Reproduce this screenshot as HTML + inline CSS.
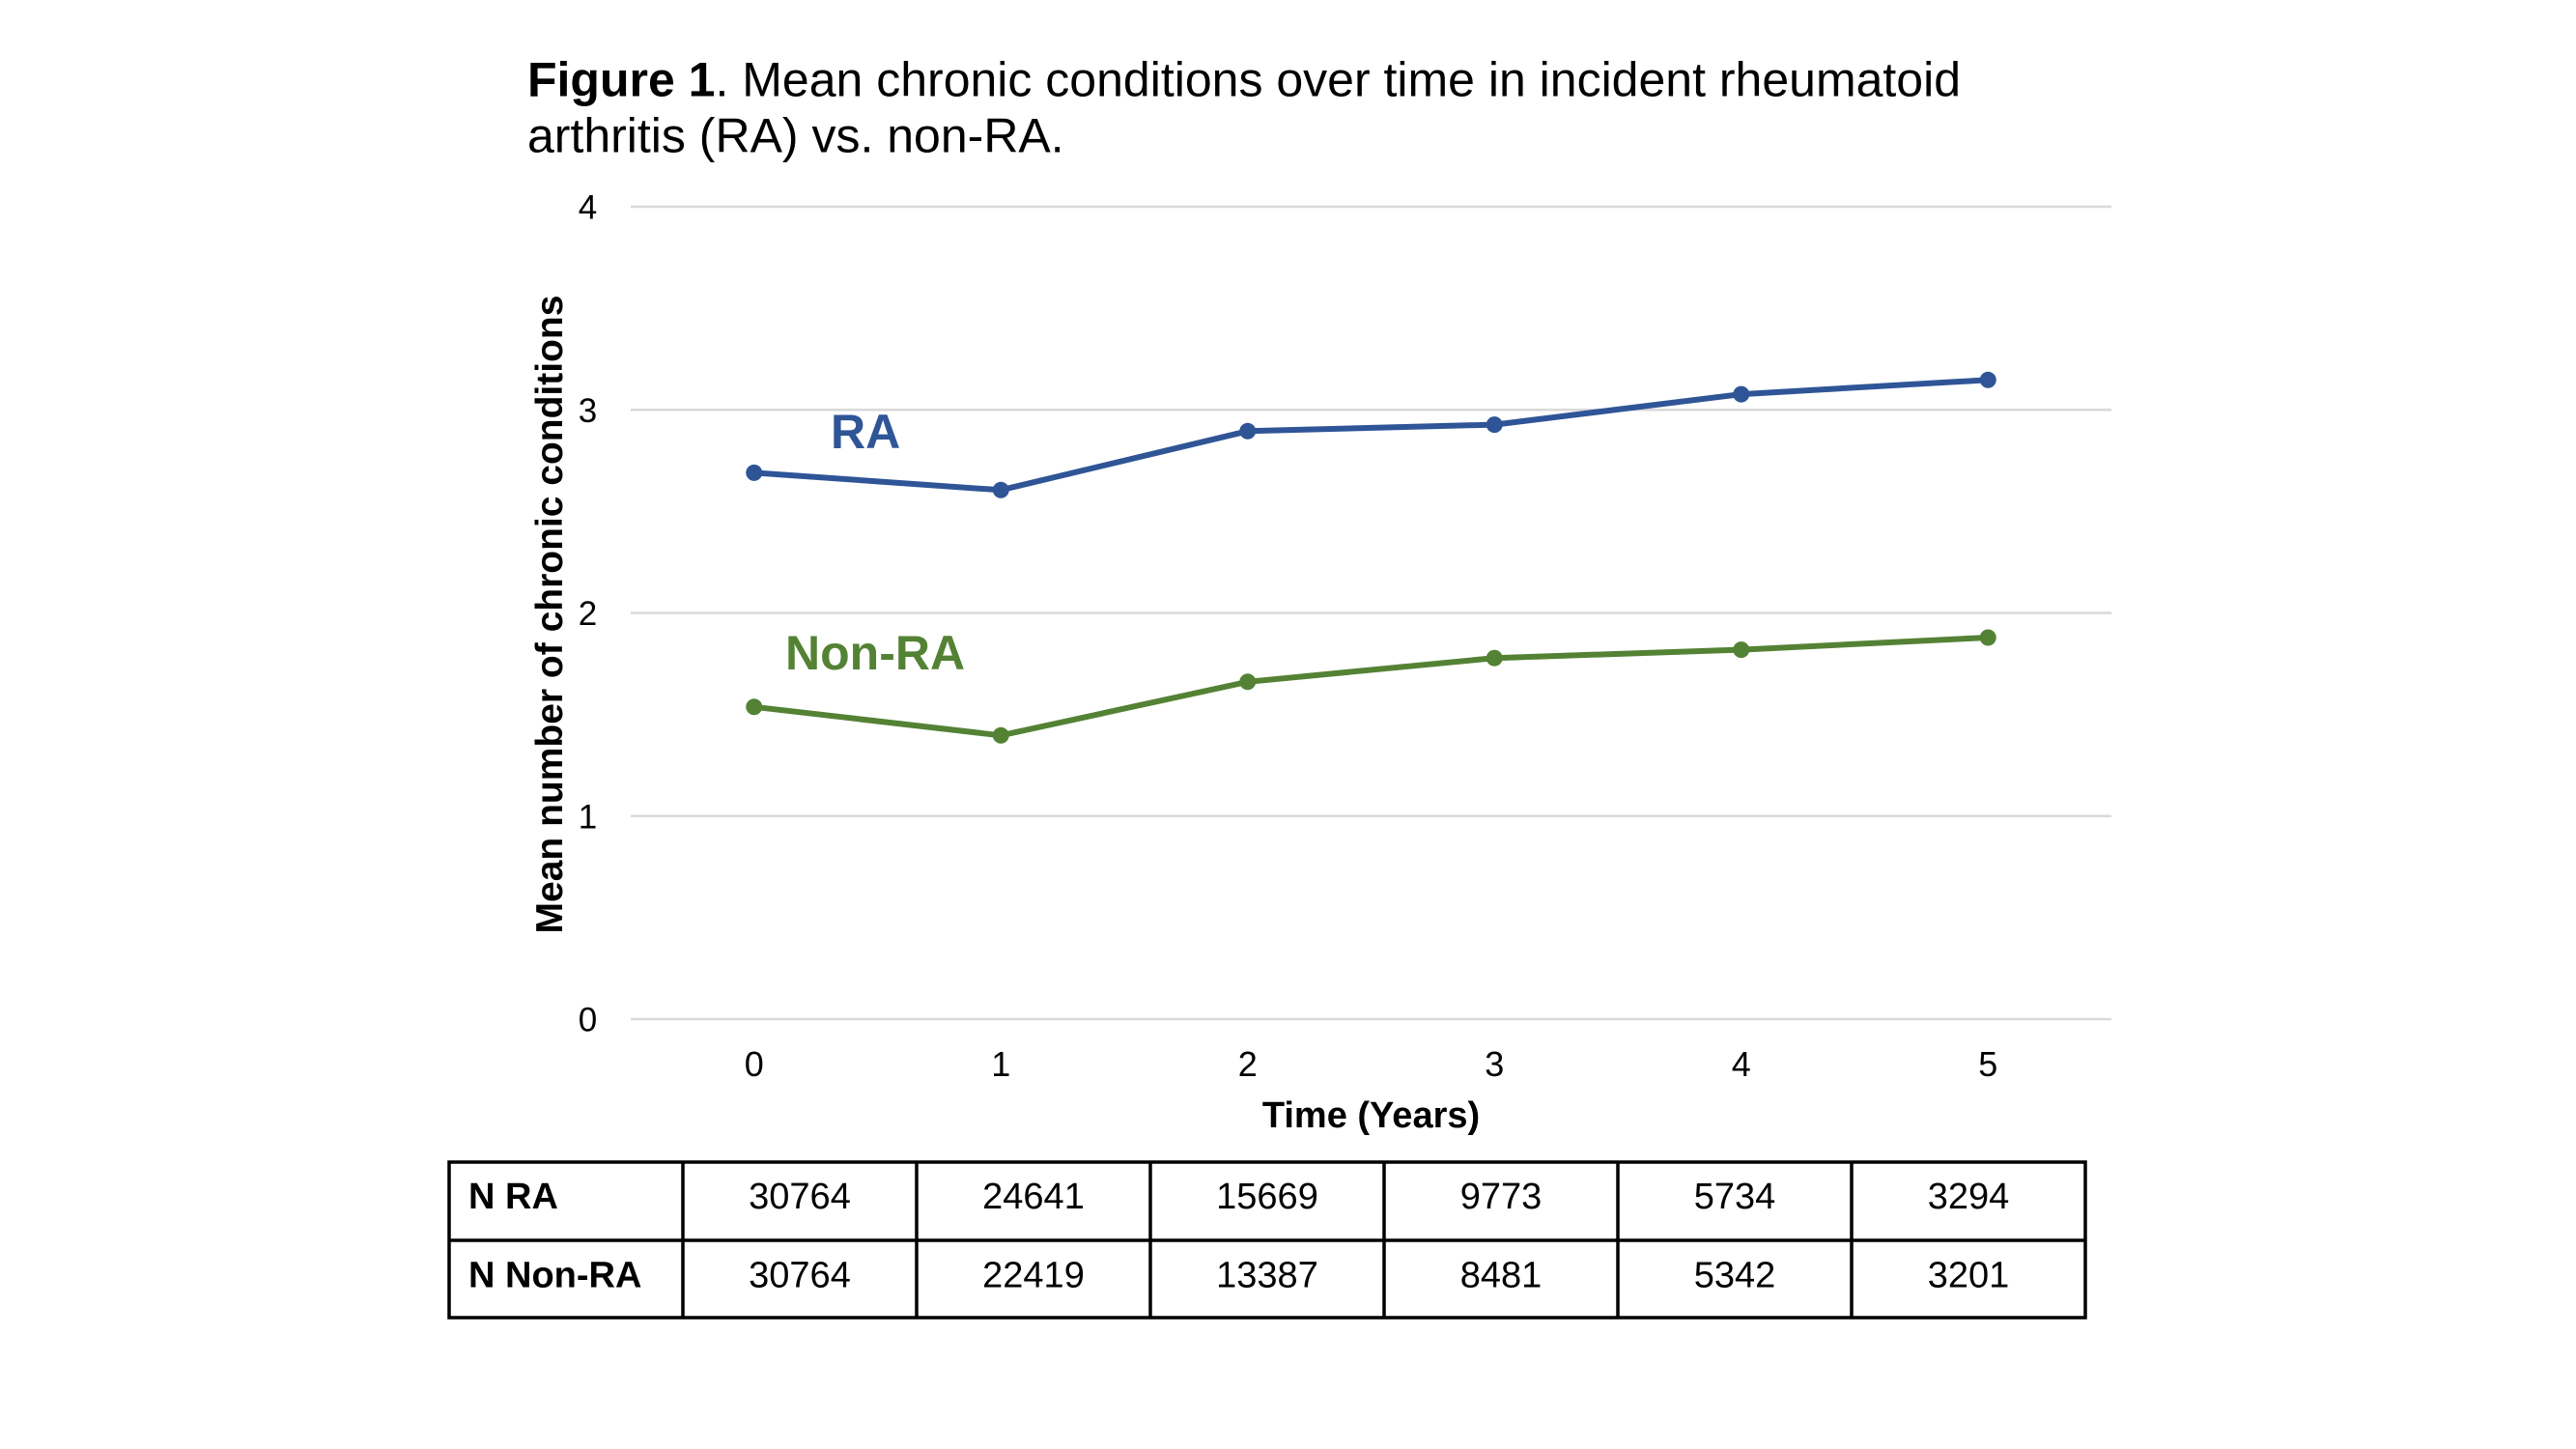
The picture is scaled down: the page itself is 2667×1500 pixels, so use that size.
<!DOCTYPE html>
<html>
<head>
<meta charset="utf-8">
<style>
  html, body { margin:0; padding:0; background:#ffffff; }
  svg { display:block; }
  text { font-family: "Liberation Sans", Arial, sans-serif; }
</style>
</head>
<body>
<svg width="2667" height="1500" viewBox="0 0 2667 1500" xmlns="http://www.w3.org/2000/svg">
  <rect x="0" y="0" width="2667" height="1500" fill="#ffffff"/>

  <!-- Title -->
  <text x="546" y="99.5" font-size="50" fill="#000"><tspan font-weight="bold">Figure 1</tspan>. Mean chronic conditions over time in incident rheumatoid</text>
  <text x="546" y="157.5" font-size="50" fill="#000">arthritis (RA) vs. non-RA.</text>

  <!-- Gridlines -->
  <g stroke="#D9D9D9" stroke-width="2.5">
    <line x1="653" y1="214" x2="2186" y2="214"/>
    <line x1="653" y1="424.25" x2="2186" y2="424.25"/>
    <line x1="653" y1="634.5" x2="2186" y2="634.5"/>
    <line x1="653" y1="844.75" x2="2186" y2="844.75"/>
    <line x1="653" y1="1055" x2="2186" y2="1055"/>
  </g>

  <!-- Y tick labels -->
  <g font-size="35" fill="#000" text-anchor="middle">
    <text x="608.5" y="226.5">4</text>
    <text x="608.5" y="436.75">3</text>
    <text x="608.5" y="647">2</text>
    <text x="608.5" y="857.25">1</text>
    <text x="608.5" y="1067.5">0</text>
  </g>

  <!-- X tick labels -->
  <g font-size="36" fill="#000" text-anchor="middle">
    <text x="780.75" y="1114">0</text>
    <text x="1036.25" y="1114">1</text>
    <text x="1291.75" y="1114">2</text>
    <text x="1547.25" y="1114">3</text>
    <text x="1802.75" y="1114">4</text>
    <text x="2058.25" y="1114">5</text>
  </g>

  <!-- Axis titles -->
  <text x="1419.5" y="1167" font-size="38" font-weight="bold" text-anchor="middle" fill="#000">Time (Years)</text>
  <text transform="translate(582,636) rotate(-90)" x="0" y="0" font-size="39" font-weight="bold" text-anchor="middle" fill="#000">Mean number of chronic conditions</text>

  <!-- RA series -->
  <polyline fill="none" stroke="#2F5597" stroke-width="6" stroke-linejoin="round" stroke-linecap="round"
    points="780.75,489.4 1036.25,507.3 1291.75,446.3 1547.25,439.6 1802.75,408.1 2058.25,393.3"/>
  <g fill="#2F5597">
    <circle cx="780.75" cy="489.4" r="8.5"/>
    <circle cx="1036.25" cy="507.3" r="8.5"/>
    <circle cx="1291.75" cy="446.3" r="8.5"/>
    <circle cx="1547.25" cy="439.6" r="8.5"/>
    <circle cx="1802.75" cy="408.1" r="8.5"/>
    <circle cx="2058.25" cy="393.3" r="8.5"/>
  </g>

  <!-- Non-RA series -->
  <polyline fill="none" stroke="#548235" stroke-width="6" stroke-linejoin="round" stroke-linecap="round"
    points="780.75,731.8 1036.25,761.3 1291.75,705.8 1547.25,681.2 1802.75,672.6 2058.25,660.0"/>
  <g fill="#548235">
    <circle cx="780.75" cy="731.8" r="8.5"/>
    <circle cx="1036.25" cy="761.3" r="8.5"/>
    <circle cx="1291.75" cy="705.8" r="8.5"/>
    <circle cx="1547.25" cy="681.2" r="8.5"/>
    <circle cx="1802.75" cy="672.6" r="8.5"/>
    <circle cx="2058.25" cy="660.0" r="8.5"/>
  </g>

  <!-- Series labels -->
  <text x="860" y="464" font-size="50" font-weight="bold" fill="#2F5597">RA</text>
  <text x="813" y="693" font-size="50" font-weight="bold" fill="#548235">Non-RA</text>

  <!-- Table -->
  <g stroke="#000" stroke-width="3.5" fill="none">
    <rect x="465" y="1203" width="1694" height="161"/>
    <line x1="465" y1="1284" x2="2159" y2="1284"/>
    <line x1="707" y1="1203" x2="707" y2="1364"/>
    <line x1="949" y1="1203" x2="949" y2="1364"/>
    <line x1="1191" y1="1203" x2="1191" y2="1364"/>
    <line x1="1433" y1="1203" x2="1433" y2="1364"/>
    <line x1="1675" y1="1203" x2="1675" y2="1364"/>
    <line x1="1917" y1="1203" x2="1917" y2="1364"/>
  </g>
  <g font-size="38" font-weight="bold" fill="#000">
    <text x="485" y="1251">N RA</text>
    <text x="485" y="1332.5">N Non-RA</text>
  </g>
  <g font-size="38" fill="#000" text-anchor="middle">
    <text x="828" y="1251">30764</text>
    <text x="1070" y="1251">24641</text>
    <text x="1312" y="1251">15669</text>
    <text x="1554" y="1251">9773</text>
    <text x="1796" y="1251">5734</text>
    <text x="2038" y="1251">3294</text>
    <text x="828" y="1332.5">30764</text>
    <text x="1070" y="1332.5">22419</text>
    <text x="1312" y="1332.5">13387</text>
    <text x="1554" y="1332.5">8481</text>
    <text x="1796" y="1332.5">5342</text>
    <text x="2038" y="1332.5">3201</text>
  </g>
</svg>
</body>
</html>
